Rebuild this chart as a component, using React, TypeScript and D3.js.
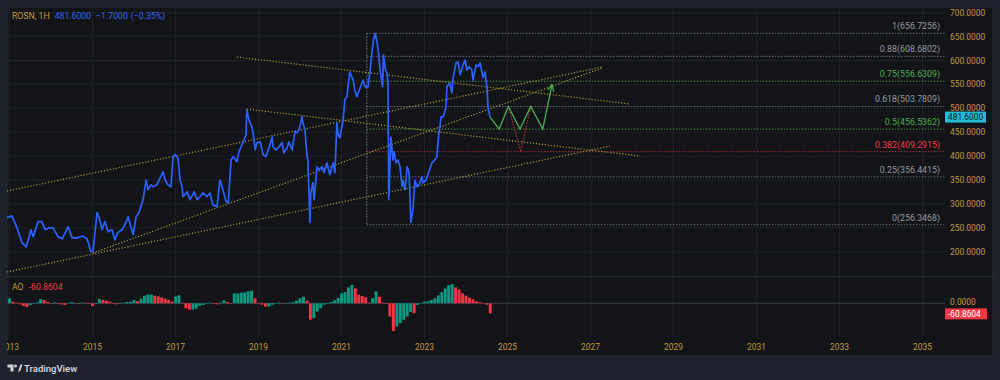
import React from 'react';
import * as d3 from 'd3';

// ---------- data ----------
const priceData: [number, number][] = [
  [2012.94, 271], [2013.06, 275], [2013.18, 250], [2013.30, 219], [2013.40, 210], [2013.52, 246], [2013.57, 231],
  [2013.69, 263], [2013.78, 263], [2013.86, 246], [2013.95, 250], [2014.05, 250], [2014.17, 231], [2014.27, 227],
  [2014.41, 252], [2014.51, 229], [2014.63, 229], [2014.75, 233], [2014.87, 227], [2014.96, 200], [2015.01, 200],
  [2015.11, 282], [2015.16, 271], [2015.23, 246], [2015.30, 263], [2015.37, 242], [2015.47, 246], [2015.54, 225],
  [2015.61, 240], [2015.71, 246], [2015.78, 256], [2015.86, 273], [2015.93, 250], [2015.98, 236], [2016.05, 273],
  [2016.12, 282], [2016.22, 309], [2016.29, 350], [2016.34, 330], [2016.41, 340], [2016.46, 336], [2016.55, 340],
  [2016.63, 355], [2016.70, 367], [2016.75, 350], [2016.82, 340], [2016.89, 336], [2016.94, 399], [2016.99, 403],
  [2017.06, 396], [2017.11, 350], [2017.16, 336], [2017.18, 315], [2017.28, 325], [2017.35, 309], [2017.45, 325],
  [2017.52, 309], [2017.59, 315], [2017.66, 323], [2017.76, 315], [2017.83, 323], [2017.90, 298], [2018.00, 294],
  [2018.07, 350], [2018.14, 330], [2018.22, 305], [2018.27, 302], [2018.34, 392], [2018.39, 399], [2018.48, 388],
  [2018.53, 409], [2018.63, 430], [2018.70, 445], [2018.72, 497], [2018.77, 476], [2018.84, 461], [2018.87, 449],
  [2018.92, 413], [2018.96, 428], [2019.04, 430], [2019.11, 403], [2019.18, 399], [2019.25, 417], [2019.33, 440],
  [2019.35, 419], [2019.42, 413], [2019.49, 419], [2019.57, 428], [2019.61, 407], [2019.69, 417], [2019.73, 430],
  [2019.81, 413], [2019.88, 451], [2019.93, 449], [2019.98, 455], [2020.05, 482], [2020.07, 470], [2020.12, 455],
  [2020.17, 399], [2020.19, 392], [2020.24, 261], [2020.26, 323], [2020.31, 344], [2020.34, 309], [2020.41, 378],
  [2020.46, 371], [2020.53, 378], [2020.58, 365], [2020.65, 386], [2020.72, 361], [2020.80, 386], [2020.84, 365],
  [2020.89, 470], [2020.92, 445], [2020.96, 438], [2021.04, 476], [2021.08, 518], [2021.13, 524], [2021.20, 576],
  [2021.28, 559], [2021.32, 539], [2021.37, 524], [2021.45, 543], [2021.52, 559], [2021.57, 545], [2021.64, 545],
  [2021.69, 580], [2021.74, 622], [2021.77, 643], [2021.81, 657], [2021.86, 637], [2021.89, 616], [2021.94, 574],
  [2021.99, 545], [2022.01, 612], [2022.06, 580], [2022.10, 574], [2022.12, 553], [2022.14, 309], [2022.19, 440],
  [2022.24, 392], [2022.27, 409], [2022.31, 386], [2022.36, 392], [2022.41, 378], [2022.46, 336], [2022.48, 350],
  [2022.53, 330], [2022.58, 378], [2022.63, 365], [2022.67, 261], [2022.72, 288], [2022.77, 350], [2022.82, 336],
  [2022.87, 340], [2022.94, 357], [2022.96, 344], [2023.04, 350], [2023.08, 361], [2023.18, 386], [2023.25, 392],
  [2023.30, 399], [2023.33, 434], [2023.40, 482], [2023.45, 482], [2023.52, 503], [2023.54, 545], [2023.61, 553],
  [2023.66, 532], [2023.69, 564], [2023.76, 595], [2023.81, 597], [2023.86, 570], [2023.93, 591], [2023.98, 601],
  [2024.02, 580], [2024.07, 587], [2024.14, 580], [2024.17, 559], [2024.24, 591], [2024.29, 587], [2024.34, 595],
  [2024.41, 564], [2024.46, 576], [2024.51, 539], [2024.53, 503], [2024.58, 481.6],
];

// Awesome Oscillator, one value per month starting Jan 2013
const aoStartYear = 2013;
const aoValues: number[] = [
  30, 10, 4, -6, -16, -22, -12, 2, 6, 26, 20, 8,
  0, 6, 0, -6, -10, 2, 8, 0, 0, 4, 2, 0,
  -16, -4, 26, 20, 16, 10, -2, -6, 0, 4, 8, 10,
  20, 12, 28, 46, 52, 54, 46, 42, 36, 28, 20, 10,
  40, 48, 4, -30, -38, -38, -32, -16, -10, 0, 4, 0,
  -6, 4, 18, 8, -2, 60, 60, 64, 66, 72, 76, 30,
  -2, -8, -20, -20, -8, 0, 4, 0, 0, 4, 6, 16,
  30, 40, 16, -100, -90, -50, -30, -8, 2, 8, 18, 32,
  60, 68, 96, 112, 90, 52, 44, 36, 4, 32, 72, 40,
  4, -4, -80, -168, -140, -120, -100, -80, -52, -60, -10, 2,
  10, 12, 20, 30, 48, 68, 90, 110, 116, 96, 84, 60,
  46, 34, 24, 12, 6, 0, -8, -60.8604,
];

const fibRatios = [1, 0.88, 0.75, 0.618, 0.5, 0.382, 0.25, 0];
const fibValues = [656.7256, 608.6802, 556.6309, 503.7809, 456.5362, 409.2915, 356.4415, 256.3468];
const fibKinds = ['gray', 'gray', 'green', 'gray', 'green', 'red', 'gray', 'gray'];
const fibStartYear = 2021.61;

// trend lines: [startYear, startPrice, endYear, endPrice]
const trendLines: [number, number, number, number][] = [
  [2012.94, 327, 2027.28, 586.4],
  [2012.94, 157.5, 2027.47, 421.1],
  [2015.01, 197.3, 2027.28, 584.3],
  [2018.72, 498.5, 2028.19, 400.2],
  [2018.48, 607.3, 2027.95, 509],
];

const greenPath: [number, number][] = [
  [2024.58, 481.6], [2024.80, 456.5], [2025.02, 503.8], [2025.30, 456.5],
  [2025.56, 503.8], [2025.85, 456.5], [2026.07, 548.7],
];
const redPath: [number, number][] = [[2025.02, 503.8], [2025.32, 409.3], [2025.56, 503.8]];

const priceTicks = [200, 250, 300, 350, 400, 450, 500, 550, 600, 650, 700];
const yearTicks = [2013, 2015, 2017, 2019, 2021, 2023, 2025, 2027, 2029, 2031, 2033, 2035];

const lastPrice = 481.6;
const lastAO = -60.8604;

// ---------- styles ----------
const FONT = 'Roboto, "Liberation Sans", sans-serif';
const FS = 8.4;
const GOLD = '#c49a3c';
const PANE_BG = '#121418';
const OUTER_BG = '#1e222d';
const GRID = '#1d2028';
const TREND = '#c2ad3c';

export default function App() {
  const x = d3.scaleLinear().domain([2013, 2035]).range([9.5, 922.5]);
  const y = d3.scaleLinear().domain([200, 700]).range([251.7, 12.7]);
  const yAO = d3.scaleLinear().domain([0, 100]).range([303.3, 286.8]);

  const line = d3.line<[number, number]>().x(d => x(d[0])).y(d => y(d[1]));
  const fibX0 = x(fibStartYear);
  const paneRight = 945;

  const fibColor = (k: string) => (k === 'green' ? '#4caf50' : k === 'red' ? '#f23645' : '#9598a1');
  const fibLineColor = (k: string) => (k === 'green' ? '#3f8f43' : k === 'red' ? '#a8303a' : '#6a6d78');

  const step = x(aoStartYear + 1 / 12) - x(aoStartYear);
  const barW = step * 0.85;

  return (
    <div style={{ position: 'fixed', left: 0, top: 0, width: 1000, height: 380 }}>
      <svg width={1000} height={380} style={{ display: 'block' }} fontFamily={FONT}>
        <defs>
          <clipPath id="mainClip"><rect x={7} y={7} width={paneRight - 7} height={269} /></clipPath>
          <clipPath id="aoClip"><rect x={7} y={277} width={paneRight - 7} height={60} /></clipPath>
          <clipPath id="timeClip"><rect x={7} y={337} width={986} height={19} /></clipPath>
          <marker id="arrowG" viewBox="0 0 10 10" refX="8" refY="5" markerWidth="6" markerHeight="6" orient="auto">
            <path d="M0,1 L9,5 L0,9" fill="none" stroke="#4caf50" strokeWidth={1.6} />
          </marker>
        </defs>

        <rect x={0} y={0} width={1000} height={380} fill={OUTER_BG} />
        <rect x={7} y={7} width={986} height={349} fill={PANE_BG} stroke="#2a2e39" strokeWidth={1} />

        {/* grid */}
        <g clipPath="url(#mainClip)">
          {priceTicks.map(t => (
            <line key={t} x1={7} x2={paneRight} y1={y(t)} y2={y(t)} stroke={GRID} strokeWidth={1} />
          ))}
        </g>
        {yearTicks.map(t => (
          <g key={t}>
            <line x1={x(t)} x2={x(t)} y1={7} y2={276} stroke={GRID} strokeWidth={1} />
            <line x1={x(t)} x2={x(t)} y1={277} y2={337} stroke={GRID} strokeWidth={1} />
          </g>
        ))}

        {/* main pane content */}
        <g clipPath="url(#mainClip)">
          {/* fib levels */}
          <line x1={fibX0} x2={fibX0} y1={y(fibValues[0])} y2={y(fibValues[fibValues.length - 1])}
            stroke="#7a7d88" strokeWidth={1} strokeDasharray="1.5,1.5" />
          {fibValues.map((v, i) => (
            <g key={i}>
              <line x1={fibX0} x2={paneRight} y1={y(v)} y2={y(v)} stroke={fibLineColor(fibKinds[i])}
                strokeWidth={1} strokeDasharray="1.5,1.5" />
              <text x={940} y={y(v) - 4} textAnchor="end" fontSize={FS + 0.4} fill={fibColor(fibKinds[i])}>
                {`${fibRatios[i]}(${v.toFixed(4)})`}
              </text>
            </g>
          ))}

          {/* trend lines */}
          {trendLines.map((t, i) => (
            <line key={i} x1={x(t[0])} y1={y(t[1])} x2={x(t[2])} y2={y(t[3])}
              stroke={TREND} strokeWidth={1.2} strokeDasharray="1.2,1.8" opacity={0.85} />
          ))}

          {/* projections */}
          <path d={line(redPath) || ''} fill="none" stroke="#b0303a" strokeWidth={1.3} strokeDasharray="1.5,1.5" />
          <path d={line(greenPath) || ''} fill="none" stroke="#4caf50" strokeWidth={1.3} markerEnd="url(#arrowG)" />

          {/* price */}
          <path d={line(priceData) || ''} fill="none" stroke="#2962ff" strokeWidth={1.7} strokeLinejoin="round" />
        </g>

        {/* pane separator */}
        <line x1={7} x2={993} y1={276.5} y2={276.5} stroke="#2a2e39" strokeWidth={1} />

        {/* AO pane */}
        <g clipPath="url(#aoClip)">
          <line x1={7} x2={paneRight} y1={yAO(0)} y2={yAO(0)} stroke="#363a45" strokeWidth={1} />
          {aoValues.map((v, i) => {
            const prev = i > 0 ? aoValues[i - 1] : v;
            const col = v >= prev ? '#089981' : '#f23645';
            const cx = x(aoStartYear + i / 12);
            const y0 = yAO(0);
            const y1 = yAO(v);
            return (
              <rect key={i} x={cx - barW / 2} width={barW} y={Math.min(y0, y1)} height={Math.max(0.5, Math.abs(y1 - y0))} fill={col} />
            );
          })}
        </g>

        {/* price axis labels */}
        {priceTicks.map(t => (
          <text key={t} x={950} y={y(t) + 3} fontSize={FS} fill={GOLD}>{t.toFixed(4)}</text>
        ))}
        <rect x={945} y={y(lastPrice) - 5.5} width={41} height={11} fill="#1fbcd3" />
        <text x={948} y={y(lastPrice) + 3} fontSize={FS} fill="#131722">{lastPrice.toFixed(4)}</text>

        <text x={950} y={yAO(0) + 2} fontSize={FS} fill={GOLD}>{(0).toFixed(4)}</text>
        <rect x={945} y={yAO(lastAO) - 5} width={42} height={11} fill="#f23645" />
        <text x={948} y={yAO(lastAO) + 3.3} fontSize={FS} fill="#ffffff">{lastAO.toFixed(4)}</text>

        {/* time axis */}
        <g clipPath="url(#timeClip)">
          {yearTicks.map(t => (
            <text key={t} x={x(t)} y={350} textAnchor="middle" fontSize={FS} fill={GOLD}>{t}</text>
          ))}
        </g>

        {/* headers */}
        <text x={12} y={19} fontSize={FS + 0.3}>
          <tspan fill={GOLD}>ROSN, 1H</tspan>
          <tspan dx={5} fill="#2f66f5">481.6000</tspan>
          <tspan dx={5} fill="#2f66f5">−1.7000</tspan>
          <tspan dx={3} fill="#2f66f5">(−0.35%)</tspan>
        </text>
        <text x={12} y={290} fontSize={FS + 0.3}>
          <tspan fill={GOLD}>AO</tspan>
          <tspan dx={5} fill="#f23645">{lastAO.toFixed(4)}</tspan>
        </text>

        {/* TradingView logo */}
        <g fill="#d1d4dc">
          <path d="M7.5 364.5 h6 v7 h-3 v-4 h-3 z" />
          <circle cx={15.5} cy={366} r={1.5} />
          <path d="M18 371.5 L20.5 364.5 L22.5 364.5 L20 371.5 z" />
          <text x={24} y={371.5} fontSize={9.5} fontWeight={600}>TradingView</text>
        </g>
      </svg>
    </div>
  );
}
